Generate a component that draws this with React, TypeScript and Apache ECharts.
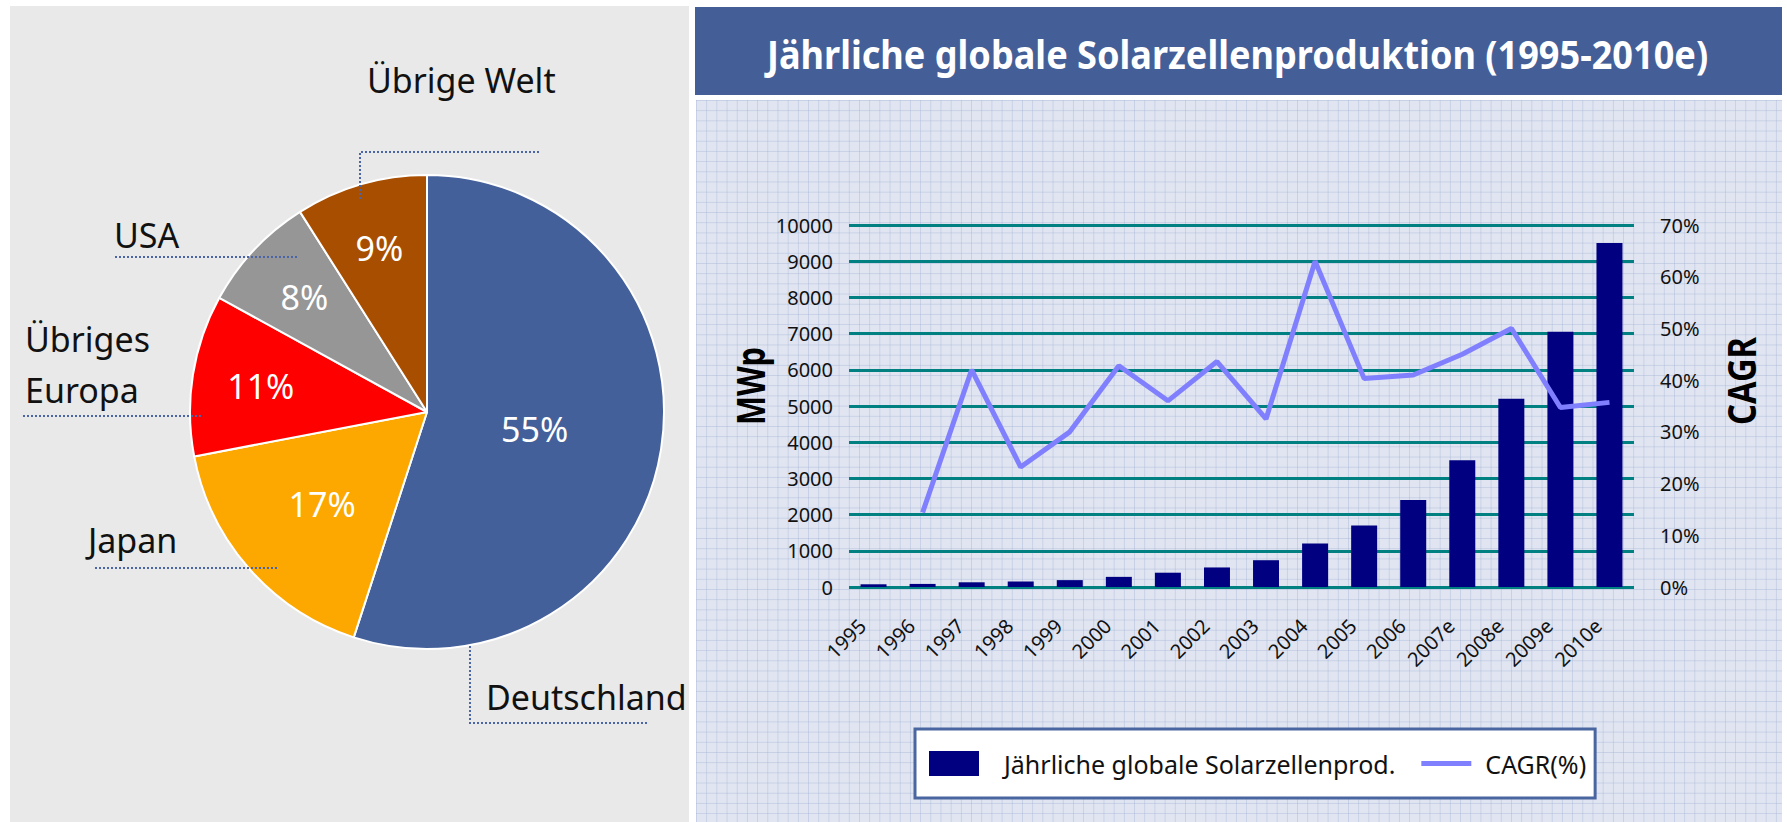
import React, { useEffect, useRef } from "react";
import * as echarts from "echarts";

// ---------- data ----------
const pieNames = ["Deutschland", "Japan", "Übriges Europa", "USA", "Übrige Welt"];
const pieValues = [55, 17, 11, 8, 9];
const pieColors = ["#44609a", "#fca800", "#ff0000", "#969696", "#a84e00"];

const years = [
  "1995", "1996", "1997", "1998", "1999", "2000", "2001", "2002",
  "2003", "2004", "2005", "2006", "2007e", "2008e", "2009e", "2010e",
];
const production = [75, 85, 130, 150, 190, 280, 395, 540, 740, 1200, 1700, 2400, 3500, 5200, 7050, 9500];
const cagr: (number | string)[] = ["-", 14.4, 42, 23.2, 30, 42.8, 36, 43.6, 32.5, 63, 40.3, 41, 45, 50, 34.7, 35.7];

const leftAxis = { min: 0, max: 10000, interval: 1000 };
const rightAxis = { min: 0, max: 70, interval: 10 };

const barName = "Jährliche globale Solarzellenprod.";
const lineName = "CAGR(%)";
const titleText = "Jährliche globale Solarzellenproduktion (1995-2010e)";

// ---------- layout (not data) ----------
const PIE_CX = 427;
const PIE_CY = 412;
const PIE_R = 237;
const innerLabelRadius = [0.46, 0.59, 0.71, 0.71, 0.72];
const outerLabelPos = [
  { x: 486, y: 697, line: [[470, 646], [470, 723], [648, 723]] },
  { x: 88, y: 540, line: [[277, 568], [185, 568], [93, 568]] },
  { x: 25, y: 364, line: [[201, 416], [110, 416], [22, 416]] },
  { x: 114, y: 235, line: [[297, 257], [206, 257], [115, 257]] },
  { x: 367, y: 80, line: [[360, 199], [360, 152], [539, 152]] },
];

const FONT = '"Noto Sans", sans-serif';

export default function App() {
  const ref = useRef<HTMLDivElement>(null);

  useEffect(() => {
    const chart = echarts.init(ref.current!, null, { renderer: "svg" });
    const ctx = document.createElement("canvas").getContext("2d")!;
    const measure = (t: string, font: string) => {
      ctx.font = font;
      return ctx.measureText(t).width;
    };
    const boldFont = 'bold 40px "Noto Sans"';
    const titleScale = 941 / measure(titleText, boldFont);
    const mwpScale = 78 / measure("MWp", boldFont);
    const cagrScale = 88 / measure("CAGR", boldFont);

    const total = pieValues.reduce((a, b) => a + b, 0);
    const midAngles = pieValues.map((v, i) => {
      const before = pieValues.slice(0, i).reduce((a, b) => a + b, 0);
      return ((before + v / 2) / total) * Math.PI * 2;
    });

    const pieData = pieNames.map((n, i) => ({
      name: n,
      value: pieValues[i],
      itemStyle: { color: pieColors[i] },
    }));

    const option: any = {
      animation: false,
      graphic: [
        {
          type: "text",
          x: 767,
          y: 53,
          scaleX: titleScale,
          style: {
            text: titleText,
            font: boldFont,
            fill: "#ffffff",
            align: "left",
            verticalAlign: "middle",
          },
        },
        {
          type: "text",
          x: 749,
          y: 386,
          rotation: Math.PI / 2,
          scaleX: mwpScale,
          style: {
            text: "MWp",
            font: boldFont,
            fill: "#000",
            align: "center",
            verticalAlign: "middle",
          },
        },
        {
          type: "text",
          x: 1741,
          y: 381,
          rotation: Math.PI / 2,
          scaleX: cagrScale,
          style: {
            text: "CAGR",
            font: boldFont,
            fill: "#000",
            align: "center",
            verticalAlign: "middle",
          },
        },
      ],
      legend: {
        left: 915,
        top: 729,
        orient: "horizontal",
        padding: [22, 9, 22, 14],
        itemWidth: 50,
        itemHeight: 25,
        itemGap: 26,
        symbolKeepAspect: true,
        backgroundColor: "#ffffff",
        borderColor: "#4a66a0",
        borderWidth: 3,
        borderRadius: 0,
        textStyle: { fontSize: 25, fontFamily: FONT, color: "#111" },
        data: [
          { name: barName, icon: "rect", textStyle: { padding: [0, 0, 0, 20] } },
          {
            name: lineName,
            icon: "path://M0,0L52,0L52,5L0,5Z",
            textStyle: { padding: [0, 0, 0, 9] },
          },
        ],
      },
      grid: { left: 849, right: 153, top: 225, bottom: 235, containLabel: false },
      xAxis: {
        type: "category",
        data: years,
        axisLine: { show: false },
        axisTick: { show: false },
        splitLine: { show: false },
        axisLabel: {
          rotate: 45,
          margin: 24,
          fontSize: 20,
          fontFamily: FONT,
          color: "#111",
          interval: 0,
          padding: [0, 16, 0, 0],
        },
      },
      yAxis: [
        {
          type: "value",
          position: "left",
          ...leftAxis,
          axisLine: { show: false },
          axisTick: { show: false },
          axisLabel: {
            fontSize: 20,
            fontFamily: FONT,
            color: "#111",
            margin: 16,
            formatter: (v: number) => String(v),
          },
          splitLine: { show: true, lineStyle: { color: "#008080", width: 3 } },
        },
        {
          type: "value",
          position: "right",
          ...rightAxis,
          axisLine: { show: false },
          axisTick: { show: false },
          axisLabel: {
            fontSize: 20,
            fontFamily: FONT,
            color: "#111",
            margin: 26,
            formatter: "{value}%",
          },
          splitLine: { show: false },
        },
      ],
      series: [
        {
          type: "pie",
          center: [PIE_CX, PIE_CY],
          radius: PIE_R,
          startAngle: 90,
          clockwise: true,
          avoidLabelOverlap: false,
          silent: true,
          data: pieData,
          itemStyle: { borderColor: "#ffffff", borderWidth: 2 },
          label: {
            show: true,
            position: "inside",
            formatter: "{c}%",
            color: "#ffffff",
            fontSize: 34,
            fontFamily: FONT,
          },
          labelLine: { show: false },
          labelLayout: (p: any) => {
            const i = p.dataIndex;
            const a = midAngles[i];
            const k = innerLabelRadius[i];
            return {
              x: PIE_CX + k * PIE_R * Math.sin(a),
              y: PIE_CY - k * PIE_R * Math.cos(a),
              align: "center",
              verticalAlign: "middle",
            };
          },
          z: 2,
        },
        {
          type: "pie",
          center: [PIE_CX, PIE_CY],
          radius: PIE_R,
          startAngle: 90,
          clockwise: true,
          avoidLabelOverlap: false,
          silent: true,
          data: pieNames.map((n, i) => ({ name: n, value: pieValues[i] })),
          itemStyle: { color: "rgba(0,0,0,0)", borderWidth: 0 },
          label: {
            show: true,
            position: "outside",
            overflow: "none",
            color: "#111",
            fontSize: 34,
            lineHeight: 51,
            fontFamily: FONT,
            formatter: (p: any) => (p.name === "Übriges Europa" ? "Übriges\nEuropa" : p.name),
          },
          labelLine: {
            show: true,
            lineStyle: { color: "#4a66a8", width: 2, type: "dotted" },
          },
          labelLayout: (p: any) => {
            const c = outerLabelPos[p.dataIndex];
            return {
              x: c.x,
              y: c.y,
              align: "left",
              verticalAlign: "middle",
              labelLinePoints: c.line,
            };
          },
          z: 3,
        },
        {
          type: "bar",
          name: barName,
          data: production,
          yAxisIndex: 0,
          barWidth: 26,
          itemStyle: { color: "#000080" },
          z: 2,
        },
        {
          type: "line",
          name: lineName,
          data: cagr,
          yAxisIndex: 1,
          symbol: "none",
          showSymbol: false,
          connectNulls: false,
          lineStyle: { color: "#8080ff", width: 5 },
          itemStyle: { color: "#8080ff" },
          z: 3,
        },
      ],
    };

    chart.setOption(option);
    return () => chart.dispose();
  }, []);

  const gridBg: React.CSSProperties = {
    position: "absolute",
    left: 696,
    top: 100,
    width: 1086,
    height: 722,
    backgroundColor: "#e0e5f1",
    backgroundImage:
      "linear-gradient(to right, rgba(160,176,212,0.4) 1px, transparent 1px), linear-gradient(to bottom, rgba(160,176,212,0.4) 1px, transparent 1px)",
    backgroundSize: "10.2px 10.2px",
  };

  return (
    <div
      style={{
        position: "fixed",
        left: 0,
        top: 0,
        width: 1787,
        height: 822,
        background: "#ffffff",
        overflow: "hidden",
      }}
    >
      <div style={{ position: "absolute", left: 10, top: 6, width: 679, height: 816, background: "#e9e9e9" }} />
      <div style={{ position: "absolute", left: 695, top: 7, width: 1087, height: 88, background: "#445f98" }} />
      <div style={gridBg} />
      <div ref={ref} style={{ position: "absolute", left: 0, top: 0, width: 1787, height: 822 }} />
    </div>
  );
}
